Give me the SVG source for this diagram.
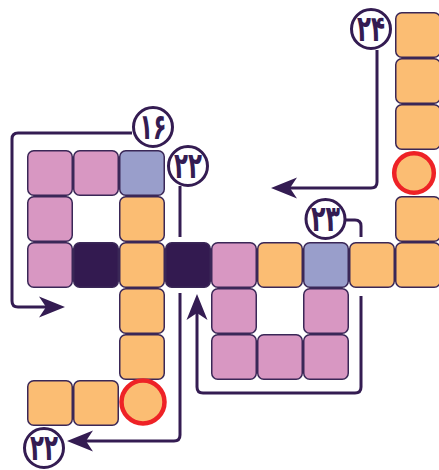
<svg xmlns="http://www.w3.org/2000/svg" width="439" height="470" viewBox="0 0 439 470">
<style>
.c{stroke:#3a2757;stroke-width:1.5}
.p{fill:#d897c2}
.o{fill:#fbbd73}
.b{fill:#999ecb}
.d{fill:#331a50}
.ring{fill:#fbbd73;stroke:#ee2226;stroke-width:4.5}
.ln{fill:none;stroke:#341c52;stroke-width:3}
.lb circle{fill:#fff;stroke:#341c52;stroke-width:3}
.lb text{font-family:"DejaVu Sans",sans-serif;font-weight:bold;font-size:36px;fill:#341c52;text-anchor:middle}
</style>
<defs>
<marker id="ah" markerUnits="userSpaceOnUse" markerWidth="32" markerHeight="26" viewBox="-28 -13 32 26" refX="-19" refY="0" orient="auto">
<path d="M0,0 L-26,-10.5 L-19,0 L-26,10.5 Z" fill="#341c52"/>
</marker>
</defs>
<g id="connectors">
<path class="ln" d="M132,133 H18 Q12,133 12,139 V301 Q12,307 18,307 H46" marker-end="url(#ah)"/>
<path class="ln" d="M180,186 V237"/>
<path class="ln" d="M180,293 V435 Q180,441 174,441 H86" marker-end="url(#ah)"/>
<path class="ln" d="M346,220 H355 Q361,220 361,226 V237"/>
<path class="ln" d="M361,296 V387 Q361,393 355,393 H203 Q197,393 197,387 V313" marker-end="url(#ah)"/>
<path class="ln" d="M377,50 V182 Q377,188 371,188 H290" marker-end="url(#ah)"/>
</g>
<g id="cells">
<rect id="c-8-0" class="c o" x="395.75" y="12.75" width="44.5" height="44.5" rx="6"/>
<rect id="c-8-1" class="c o" x="395.75" y="58.75" width="44.5" height="44.5" rx="6"/>
<rect id="c-8-2" class="c o" x="395.75" y="104.75" width="44.5" height="44.5" rx="6"/>
<circle id="ring-top" class="ring" cx="414" cy="173" r="19.8"/>
<rect id="c-8-4" class="c o" x="395.75" y="196.75" width="44.5" height="44.5" rx="6"/>
<rect id="c-0-3" class="c p" x="27.75" y="150.75" width="44.5" height="44.5" rx="6"/>
<rect id="c-1-3" class="c p" x="73.75" y="150.75" width="44.5" height="44.5" rx="6"/>
<rect id="c-2-3" class="c b" x="119.75" y="150.75" width="44.5" height="44.5" rx="6"/>
<rect id="c-0-4" class="c p" x="27.75" y="196.75" width="44.5" height="44.5" rx="6"/>
<rect id="c-2-4" class="c o" x="119.75" y="196.75" width="44.5" height="44.5" rx="6"/>
<rect id="c-0-5" class="c p" x="27.75" y="242.75" width="44.5" height="44.5" rx="6"/>
<rect id="c-1-5" class="c d" x="73.75" y="242.75" width="44.5" height="44.5" rx="6"/>
<rect id="c-2-5" class="c o" x="119.75" y="242.75" width="44.5" height="44.5" rx="6"/>
<rect id="c-3-5" class="c d" x="165.75" y="242.75" width="44.5" height="44.5" rx="6"/>
<rect id="c-4-5" class="c p" x="211.75" y="242.75" width="44.5" height="44.5" rx="6"/>
<rect id="c-5-5" class="c o" x="257.75" y="242.75" width="44.5" height="44.5" rx="6"/>
<rect id="c-6-5" class="c b" x="303.75" y="242.75" width="44.5" height="44.5" rx="6"/>
<rect id="c-7-5" class="c o" x="349.75" y="242.75" width="44.5" height="44.5" rx="6"/>
<rect id="c-8-5" class="c o" x="395.75" y="242.75" width="44.5" height="44.5" rx="6"/>
<rect id="c-2-6" class="c o" x="119.75" y="288.75" width="44.5" height="44.5" rx="6"/>
<rect id="c-4-6" class="c p" x="211.75" y="288.75" width="44.5" height="44.5" rx="6"/>
<rect id="c-6-6" class="c p" x="303.75" y="288.75" width="44.5" height="44.5" rx="6"/>
<rect id="c-2-7" class="c o" x="119.75" y="334.75" width="44.5" height="44.5" rx="6"/>
<rect id="c-4-7" class="c p" x="211.75" y="334.75" width="44.5" height="44.5" rx="6"/>
<rect id="c-5-7" class="c p" x="257.75" y="334.75" width="44.5" height="44.5" rx="6"/>
<rect id="c-6-7" class="c p" x="303.75" y="334.75" width="44.5" height="44.5" rx="6"/>
<rect id="c-0-8" class="c o" x="27.75" y="380.75" width="44.5" height="44.5" rx="6"/>
<rect id="c-1-8" class="c o" x="73.75" y="380.75" width="44.5" height="44.5" rx="6"/>
<circle id="ring-bottom" class="ring" cx="143" cy="402" r="21.5"/>
</g>
<g id="label-16" class="lb"><circle cx="153" cy="127" r="19.5"/><text x="153" y="139" textLength="27" lengthAdjust="spacingAndGlyphs">۱۶</text></g>
<g id="label-22-top" class="lb"><circle cx="188" cy="166" r="19.5"/><text x="188" y="178" textLength="28" lengthAdjust="spacingAndGlyphs">۲۲</text></g>
<g id="label-23" class="lb"><circle cx="325.5" cy="219" r="19.5"/><text x="325.5" y="231" textLength="29" lengthAdjust="spacingAndGlyphs">۲۳</text></g>
<g id="label-24" class="lb"><circle cx="371" cy="29" r="19.5"/><text x="371" y="41" textLength="28" lengthAdjust="spacingAndGlyphs">۲۴</text></g>
<g id="label-22-bottom" class="lb"><circle cx="44" cy="448" r="19.5"/><text x="44" y="460" textLength="28" lengthAdjust="spacingAndGlyphs">۲۲</text></g>
</svg>
